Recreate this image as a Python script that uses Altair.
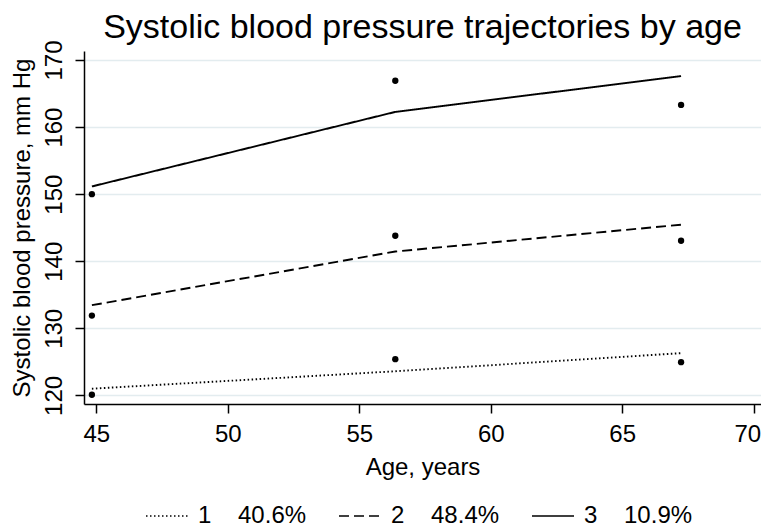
import altair as alt
import pandas as pd

# ---- data ----
ages = [44.83, 56.37, 67.24]
groups = ["1", "2", "3"]
shares = ["40.6%", "48.4%", "10.9%"]
observed_1 = [120.1, 125.4, 124.95]
observed_2 = [131.9, 143.8, 143.05]
observed_3 = [150.0, 166.9, 163.3]
fitted_1 = [121.0, 123.6, 126.3]
fitted_2 = [133.45, 141.45, 145.45]
fitted_3 = [151.15, 162.26, 167.6]

x_ticks = [45, 50, 55, 60, 65, 70]
y_ticks = [120, 130, 140, 150, 160, 170]

observed = [observed_1, observed_2, observed_3]
fitted = [fitted_1, fitted_2, fitted_3]

NB = "\u00a0"
labels = [g + NB * 4 + s for g, s in zip(groups, shares)]

rows = []
for gi, lab in enumerate(labels):
    for ai, age in enumerate(ages):
        rows.append({"age": age, "group": lab,
                     "observed": observed[gi][ai], "fitted": fitted[gi][ai],
                     "order": ai})
df = pd.DataFrame(rows)

FONT = "Liberation Sans"

x_scale = alt.Scale(domain=[44.53, 70.28], nice=False, zero=False)
y_scale = alt.Scale(domain=[118.72, 171.34], nice=False, zero=False)

x_axis = alt.Axis(values=x_ticks, title="Age, years", grid=False,
                  labelFontSize=24, titleFontSize=24, titleFontWeight="normal",
                  tickSize=9, labelPadding=9, titlePadding=9,
                  labelFlush=10, labelFlushOffset=7,
                  domainColor="#000000", tickColor="#000000",
                  domainWidth=1.5, tickWidth=1.5, labelColor="#000000",
                  titleColor="#000000")
y_axis = alt.Axis(values=y_ticks, title="Systolic blood pressure, mm Hg",
                  grid=True, gridColor="#e3ecef", gridWidth=1.6,
                  labelFontSize=24, titleFontSize=24, titleFontWeight="normal",
                  labelAngle=270, labelAlign="center", labelBaseline="alphabetic",
                  tickSize=9, labelPadding=14, titlePadding=8,
                  domainColor="#000000", tickColor="#000000",
                  domainWidth=1.5, tickWidth=1.5, labelColor="#000000",
                  titleColor="#000000", labelFlush=False)

base = alt.Chart(df)

lines = base.mark_line(color="#000000", strokeWidth=1.9).encode(
    x=alt.X("age:Q", scale=x_scale, axis=x_axis),
    y=alt.Y("fitted:Q", scale=y_scale, axis=y_axis),
    order="order:O",
    strokeDash=alt.StrokeDash(
        "group:N",
        scale=alt.Scale(domain=labels, range=[[1.5, 2.5], [10, 5], [1, 0]]),
        legend=alt.Legend(orient="none", legendX=61, legendY=443,
                          direction="horizontal", title=None,
                          symbolType="stroke", symbolSize=1764,
                          symbolStrokeWidth=1.5, symbolStrokeColor="#000000",
                          labelFontSize=24, labelColor="#000000",
                          labelFont=FONT, labelOffset=9, columnPadding=29,
                          labelLimit=300),
    ),
)

points = base.mark_circle(color="#000000", opacity=1, size=40).encode(
    x=alt.X("age:Q", scale=x_scale),
    y=alt.Y("observed:Q", scale=y_scale),
)

chart = alt.layer(lines, points).properties(
    width=677, height=353,
    title=alt.Title("Systolic blood pressure trajectories by age",
                    fontSize=34, fontWeight="normal", font=FONT,
                    anchor="middle", offset=4, dy=9, color="#000000"),
    autosize=alt.AutoSizeParams(type="none"),
    padding={"left": 76, "top": 43, "right": 0, "bottom": 121},
).configure(font=FONT).configure_view(stroke=None).configure_axis(
    labelFont=FONT, titleFont=FONT
)

chart.save("out.html", embed_options={"renderer": "svg", "actions": False})
